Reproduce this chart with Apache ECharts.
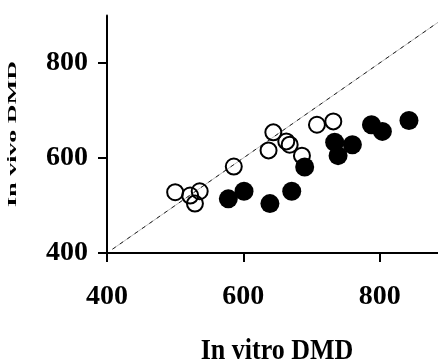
<!DOCTYPE html>
<html>
<head>
<meta charset="utf-8">
<script src="https://cdn.jsdelivr.net/npm/echarts@6/dist/echarts.min.js"></script>
<style>html,body{margin:0;padding:0;background:#fff}#c{width:438px;height:363px}</style>
</head>
<body>
<div id="c"></div>
<script>
// Data
var xTicks = [400, 600, 800];
var yTicks = [400, 600, 800];
var openX = [500, 522, 536, 529, 586, 644, 637, 663, 668, 686, 708, 732];
var openY = [528, 521, 530, 504, 582, 654, 616, 635, 628, 605, 670, 677];
var filledX = [578, 601, 639, 671, 690, 734, 739, 760, 788, 804, 843];
var filledY = [514, 530, 504, 530, 581, 633, 605, 628, 670, 656, 679];
var identityLine = [408, 885];
var xTitle = 'In vitro DMD';
var yTitle = 'In vivo DMD';

function pairs(xs, ys) { return xs.map(function (v, i) { return [v, ys[i]]; }); }

var font = '"Liberation Serif", "Times New Roman", serif';
var chart = echarts.init(document.getElementById('c'), null, {renderer: 'canvas'});
chart.setOption({
  animation: false,
  backgroundColor: '#fff',
  grid: {left: 107, right: 0.4, top: 15.5, bottom: 110, containLabel: false},
  xAxis: {
    type: 'value', min: 400, max: 885, interval: 200,
    splitLine: {show: false},
    axisLine: {show: true, onZero: false, lineStyle: {color: '#000', width: 2}},
    axisTick: {show: true, inside: false, length: 9, customValues: xTicks, lineStyle: {color: '#000', width: 2}},
    axisLabel: {customValues: xTicks, margin: 30, color: '#000', fontSize: 28, fontWeight: 'bold', fontFamily: font}
  },
  yAxis: {
    type: 'value', min: 400, max: 900, interval: 200,
    splitLine: {show: false},
    axisLine: {show: true, onZero: false, lineStyle: {color: '#000', width: 2}},
    axisTick: {show: true, inside: false, length: 9, customValues: yTicks, lineStyle: {color: '#000', width: 2}},
    axisLabel: {customValues: yTicks, margin: 19, color: '#000', fontSize: 28, fontWeight: 'bold', fontFamily: font}
  },
  graphic: [
    {type: 'text', x: 277, y: 351, scaleY: 1.15,
     style: {text: xTitle, fontSize: 26, fontWeight: 'bold', fontFamily: font, fill: '#000', align: 'center', verticalAlign: 'middle'}},
    {type: 'text', x: 13, y: 134, rotation: Math.PI / 2, scaleY: 0.5,
     style: {text: yTitle, fontSize: 26, fontWeight: 'bold', fontFamily: font, fill: '#000', align: 'center', verticalAlign: 'middle'}}
  ],
  series: [
    {type: 'line', data: pairs(identityLine, identityLine), symbol: 'none', silent: true, z: 1,
     lineStyle: {color: '#bbb', width: 1}},
    {type: 'line', data: pairs(identityLine, identityLine), symbol: 'none', silent: true, z: 2,
     lineStyle: {color: '#222', width: 1, type: [4, 5]}},
    {type: 'scatter', data: pairs(openX, openY), symbol: 'circle', symbolSize: 16, z: 3,
     itemStyle: {color: 'rgba(255,255,255,0)', borderColor: '#000', borderWidth: 2, opacity: 1}},
    {type: 'scatter', data: pairs(filledX, filledY), symbol: 'circle', symbolSize: 19, z: 4,
     itemStyle: {color: '#000', opacity: 1}}
  ]
});
</script>
</body>
</html>
